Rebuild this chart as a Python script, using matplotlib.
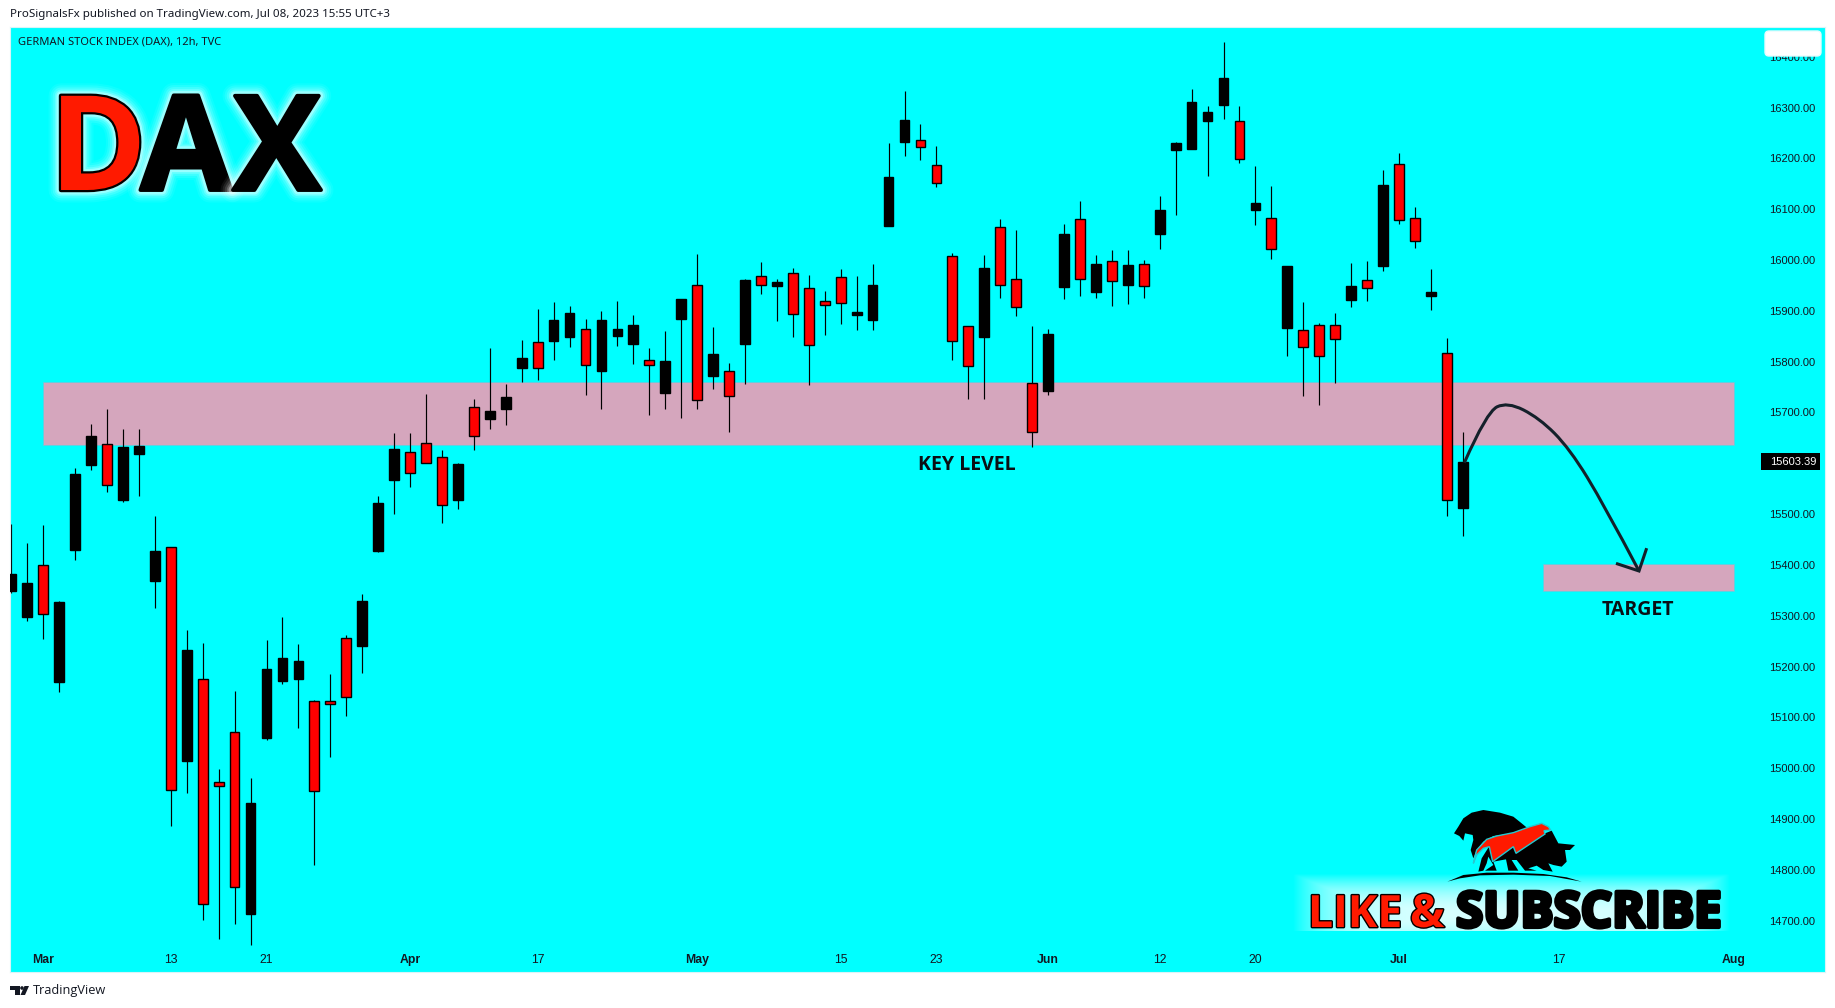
import numpy as np
import matplotlib
matplotlib.use('Agg')
import matplotlib.pyplot as plt
import matplotlib.patheffects as pe
from matplotlib.patches import Rectangle, Polygon, PathPatch, FancyBboxPatch
from matplotlib.path import Path

# candle values (black = up, red = down)
opens = [15348, 15297, 15400, 15169, 15430, 15596, 15637, 15528, 15618, 15368,
         15435, 15014, 15175, 14972, 15072, 14714, 15060, 15171, 15176, 15133,
         15133, 15256, 15240, 15427, 15567, 15623, 15639, 15612, 15528, 15710,
         15687, 15707, 15787, 15838, 15841, 15848, 15864, 15782, 15850, 15835,
         15804, 15738, 15884, 15950, 15772, 15781, 15835, 15968, 15949, 15974,
         15944, 15919, 15966, 15892, 15882, 16067, 16232, 16236, 16186, 16007,
         15871, 15848, 16064, 15962, 15757, 15742, 15947, 16080, 15937, 15997,
         15951, 15993, 16051, 16216, 16218, 16273, 16305, 16273, 16098, 16082,
         15866, 15862, 15873, 15873, 15921, 15960, 15988, 16188, 16082, 15929,
         15816, 15512]
highs = [15481, 15443, 15478, 15328, 15591, 15677, 15707, 15667, 15667, 15496,
         15435, 15272, 15246, 14998, 15152, 14981, 15252, 15297, 15244, 15135,
         15185, 15262, 15343, 15535, 15660, 15660, 15737, 15627, 15601, 15726,
         15827, 15756, 15843, 15904, 15917, 15909, 15884, 15900, 15919, 15892,
         15827, 15860, 15923, 16012, 15868, 15797, 15963, 15996, 15963, 15984,
         15970, 15939, 15982, 15968, 15992, 16230, 16332, 16268, 16224, 16013,
         15871, 16010, 16081, 16059, 15871, 15864, 16071, 16116, 16010, 16020,
         16020, 16000, 16126, 16232, 16336, 16303, 16429, 16303, 16185, 16146,
         15988, 15917, 15875, 15896, 15994, 15998, 16177, 16210, 16104, 15982,
         15846, 15662]
lows = [15345, 15290, 15255, 15150, 15410, 15587, 15544, 15524, 15536, 15316,
        14887, 14952, 14702, 14664, 14693, 14653, 15056, 15166, 15080, 14810,
        15021, 15102, 15187, 15425, 15500, 15553, 15600, 15483, 15509, 15626,
        15667, 15675, 15760, 15764, 15803, 15829, 15734, 15707, 15831, 15795,
        15695, 15707, 15689, 15707, 15746, 15662, 15756, 15933, 15880, 15848,
        15754, 15852, 15874, 15862, 15862, 16067, 16205, 16197, 16144, 15803,
        15726, 15726, 15925, 15890, 15631, 15734, 15923, 15929, 15925, 15909,
        15913, 15925, 16022, 16088, 16218, 16165, 16277, 16191, 16069, 16002,
        15811, 15732, 15715, 15758, 15908, 15919, 15978, 16070, 16023, 15902,
        15496, 15457]
closes = [15382, 15365, 15304, 15327, 15579, 15653, 15558, 15632, 15634, 15427,
          14958, 15232, 14733, 14965, 14766, 14932, 15195, 15217, 15211, 14956,
          15127, 15140, 15329, 15522, 15628, 15580, 15601, 15518, 15598, 15654,
          15702, 15730, 15807, 15788, 15882, 15896, 15794, 15882, 15864, 15872,
          15794, 15801, 15923, 15725, 15815, 15733, 15961, 15951, 15957, 15894,
          15833, 15912, 15916, 15898, 15951, 16163, 16275, 16223, 16152, 15841,
          15792, 15984, 15951, 15908, 15662, 15854, 16051, 15963, 15992, 15959,
          15990, 15949, 16098, 16230, 16311, 16291, 16358, 16199, 16112, 16022,
          15988, 15829, 15812, 15845, 15949, 15945, 16148, 16079, 16038, 15937,
          15527, 15603.39]

y_ticks = [14700, 14800, 14900, 15000, 15100, 15200, 15300, 15400, 15500,
           15600, 15700, 15800, 15900, 16000, 16100, 16200, 16300, 16400]
x_tick_bars = [2, 10, 16, 25, 33, 43, 52, 58, 65, 72, 78, 87, 97, 108]
x_tick_labels = ['Mar', '13', '21', 'Apr', '17', 'May', '15', '23', 'Jun', '12', '20', 'Jul', '17', 'Aug']
month_labels = ['Mar', 'Apr', 'May', 'Jun', 'Jul', 'Aug']

key_zone = (15636, 15760)
key_zone_start = 2
target_zone = (15348, 15402)
target_zone_start = 96
zone_end = 108

arrow_bars = [91.1, 92.5, 93.8, 95.8, 97.7, 99.9, 102.05]
arrow_prices = [15601, 15701, 15721, 15689, 15629, 15516, 15388]
arrow_head_bars = [100.7, 102.05, 102.5]
arrow_head_prices = [15402, 15388, 15430]

last_price = 15603.39

W, H = 1835, 1008
BG = '#00FFFF'
ZONE = '#D5A6BD'
DARK = '#131722'

fig = plt.figure(figsize=(W / 100, H / 100), dpi=100, facecolor='white')
left, right, top, bottom = 10, 1825, 27, 972
ax = fig.add_axes([left / W, 1 - bottom / H, (right - left) / W, (bottom - top) / H], facecolor=BG)

px_per_bar = 15.95
ax.set_xlim((left - 11.3) / px_per_bar, (right - 11.3) / px_per_bar)
ax.set_ylim(16300 - (bottom - 107.5) / 0.5082, 16300 + (107.5 - top) / 0.5082)

for s in ax.spines.values():
    s.set_color('#d8f4f8')
    s.set_linewidth(0.8)

# zones
ax.add_patch(Rectangle((key_zone_start, key_zone[0]), zone_end - key_zone_start, key_zone[1] - key_zone[0],
                       facecolor=ZONE, edgecolor='#5fd0e0', lw=0.6, zorder=1))
ax.add_patch(Rectangle((target_zone_start, target_zone[0]), zone_end - target_zone_start,
                       target_zone[1] - target_zone[0], facecolor=ZONE, edgecolor='#5fd0e0', lw=0.6, zorder=1))

# candles
opens = np.array(opens)
closes = np.array(closes)
bars = np.arange(len(opens))
colors = np.where(closes >= opens, 'black', '#FF0000')
ax.vlines(bars, lows, highs, color='black', lw=0.85, zorder=2)
ax.bar(bars, np.abs(closes - opens), bottom=np.minimum(opens, closes), width=0.61,
       color=colors, edgecolor='black', lw=1.0, zorder=3)

# hand drawn arrow
pts = list(zip(arrow_bars, arrow_prices))
verts = [pts[0]]
codes = [Path.MOVETO]
for i in range(1, len(pts) - 1):
    mid = ((pts[i][0] + pts[i + 1][0]) / 2, (pts[i][1] + pts[i + 1][1]) / 2)
    if i == len(pts) - 2:
        mid = pts[-1]
    verts += [pts[i], mid]
    codes += [Path.CURVE3, Path.CURVE3]
ax.add_patch(PathPatch(Path(verts, codes), facecolor='none', edgecolor='#14202a', lw=2.2, zorder=4))
ax.plot(arrow_head_bars, arrow_head_prices, color='#14202a', lw=2.2, zorder=4, solid_joinstyle='miter')

ax.text(59.9, 15597, 'KEY LEVEL', ha='center', va='center', fontsize=14, fontweight='bold',
        family='Open Sans', color='#0a0f14', zorder=5)
ax.text(102, 15311, 'TARGET', ha='center', va='center', fontsize=14, fontweight='bold',
        family='Open Sans', color='#0a0f14', zorder=5)

# axes labels
ax.yaxis.tick_right()
ax.set_yticks(y_ticks)
ax.set_yticklabels([f'{v:.2f}' for v in y_ticks], family='Liberation Sans', fontsize=8.0, color=DARK)
ax.tick_params(axis='y', length=0, pad=-40.0)
ax.set_xticks(x_tick_bars)
ax.set_xticklabels(x_tick_labels, family='Liberation Sans', fontsize=8.8, color=DARK)
ax.tick_params(axis='x', length=0, pad=-13.0)
for lab in ax.get_xticklabels():
    if lab.get_text() in month_labels:
        lab.set_fontweight('bold')

box_x = (1761 - left) / (right - left)
box_w = 58.5 / (right - left)
ax.add_patch(Rectangle((box_x, last_price - 17), box_w, 34, transform=ax.get_yaxis_transform(),
                       facecolor='black', edgecolor='none', zorder=6, clip_on=False))
ax.text((1770 - left) / (right - left), last_price, f'{last_price:.2f}', transform=ax.get_yaxis_transform(),
        ha='left', va='center', family='Liberation Sans', fontsize=8.0, color='white', zorder=7)

# overlay in pixel coordinates for the watermark things
ov = fig.add_axes([0, 0, 1, 1], facecolor='none')
ov.set_axis_off()

# white box hiding the top price
ov.add_patch(FancyBboxPatch((1768, 34), 50, 19, boxstyle='round,pad=3,rounding_size=4',
                            facecolor='white', edgecolor='#e8fbfd', lw=1))

ov.text(10, 15, 'ProSignalsFx published on TradingView.com, Jul 08, 2023 15:55 UTC+3', fontsize=8.3,
        family='Noto Sans', color=DARK, va='center', ha='left')
ov.text(18, 42, 'GERMAN STOCK INDEX (DAX), 12h, TVC', fontsize=8.0, family='Noto Sans',
        color=DARK, va='center', ha='left')

# DAX title
glow = [pe.withStroke(linewidth=lw, foreground='white', alpha=a) for lw, a in
        [(18, 0.06), (15, 0.09), (12, 0.13), (9, 0.2), (6.5, 0.35)]]
ov.text(98, 190, 'D', fontsize=95, fontweight='bold', family='Open Sans', color='#FF1A00', ha='center',
        va='baseline', path_effects=glow + [pe.withStroke(linewidth=3.2, foreground='black')])
for x, letter in [(186, 'A'), (277, 'X')]:
    ov.text(x, 190, letter, fontsize=95, fontweight='bold', family='Open Sans', color='black', ha='center',
            va='baseline', path_effects=glow + [pe.withStroke(linewidth=2.8, foreground='black')])

# glow box behind LIKE & SUBSCRIBE
gx, gy = np.meshgrid(np.linspace(-1, 1, 220), np.linspace(-1, 1, 40))
alpha = np.clip(1 - np.maximum(np.abs(gx) ** 5, ((gy - 0.45) / 1.45) ** 2), 0, 1) * 0.85
rgba = np.ones(gx.shape + (4,))
rgba[..., 3] = alpha
ov.imshow(rgba, extent=(1292, 1730, 931, 873), aspect='auto', interpolation='bilinear', zorder=1)

# bull & bear logo, outline points in logo pixels (3x crop of the picture)
bear_shape = [(72, 100), (85, 80), (100, 55), (125, 38), (160, 30), (210, 38), (250, 50), (275, 70), (293, 85),
              (250, 100), (190, 108), (160, 125), (140, 150), (130, 175), (122, 150), (130, 120), (128, 105),
              (105, 100), (100, 122), (88, 108)]
bull_shape = [(345, 100), (365, 92), (385, 130), (435, 135), (420, 150), (405, 150), (410, 185), (395, 200),
              (370, 195), (355, 190), (368, 215), (340, 210), (320, 197), (295, 205), (320, 212), (285, 212),
              (260, 180), (245, 180), (265, 212), (235, 212), (228, 178), (190, 185), (200, 212), (165, 212),
              (190, 195), (175, 170), (170, 190), (160, 212), (145, 215), (155, 175), (180, 135)]
swoosh_shape = [(130, 190), (140, 150), (170, 118), (200, 108), (250, 98), (300, 80), (335, 70), (355, 80),
                (362, 90), (342, 92), (345, 102), (258, 160), (250, 140), (188, 185), (178, 140), (160, 145),
                (140, 165)]
arc_shape = [(52, 245), (100, 225), (170, 218), (250, 218), (340, 222), (410, 232), (455, 245), (360, 228),
             (250, 224), (150, 226), (90, 235)]


def logo_xy(points):
    return [(1430 + x / 3, 800 + y / 3) for x, y in points]


for shape in (bear_shape, bull_shape, arc_shape):
    ov.add_patch(Polygon(logo_xy(shape), closed=True, facecolor='black', edgecolor='none', zorder=2))
ov.add_patch(Polygon(logo_xy(swoosh_shape), closed=True, facecolor='#FF1A00', edgecolor='#25c8d0', lw=1.0, zorder=3))

outline = [pe.withStroke(linewidth=2.0, foreground='black')]
ov.text(1308, 927, 'LIKE', fontsize=32, fontweight='bold', family='Open Sans', color='#FF1A00', ha='left',
        va='baseline', path_effects=outline, zorder=4)
ov.text(1410, 927, '&', fontsize=33, fontweight='bold', family='Open Sans', color='#FF1A00', ha='left',
        va='baseline', path_effects=outline, zorder=4)
ov.text(1456, 927, 'SUBSCRIBE', fontsize=35.5, fontweight='bold', family='Open Sans', color='black', ha='left',
        va='baseline', path_effects=[pe.withStroke(linewidth=3.0, foreground='black')], zorder=4)

# tradingview mark
tv_t = [(10, 986), (20, 986), (20, 995), (15, 995), (15, 990), (10, 990)]
tv_v = [(29, 986), (25, 995), (20.5, 995), (24.5, 986)]
ov.add_patch(Polygon(tv_t, closed=True, facecolor=DARK, edgecolor='none'))
ov.add_patch(Polygon(tv_v, closed=True, facecolor=DARK, edgecolor='none'))
ov.add_patch(plt.Circle((22, 988), 1.8, facecolor=DARK, edgecolor='none'))
ov.text(33, 990.5, 'TradingView', fontsize=9.2, family='Open Sans', color=DARK, va='center', ha='left')

ov.set_xlim(0, W)
ov.set_ylim(H, 0)

fig.savefig('out.png', dpi=100, facecolor='white')
